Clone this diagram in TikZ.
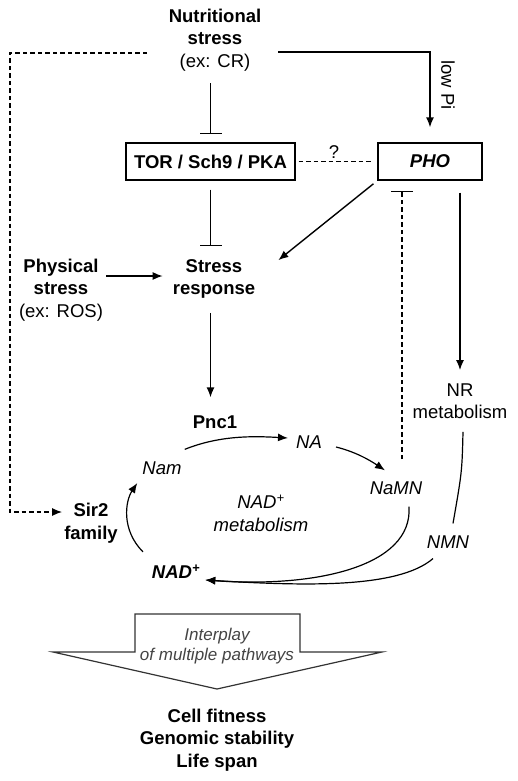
\documentclass[tikz,border=0pt]{standalone}
\usepackage{fontspec}
\setmainfont{Liberation Sans}
\usetikzlibrary{arrows.meta,calc}
\definecolor{boxgray}{HTML}{333333}
\definecolor{txtgray}{HTML}{444444}
\begin{document}
\begin{tikzpicture}[x=1pt,y=-1pt,
  every node/.style={inner sep=0pt, font=\fontsize{18.5}{22.5}\selectfont, align=center},
  bx/.style={draw, line width=1.3pt, minimum height=37pt, inner sep=0pt},
  arr/.style={line width=1.4pt, -{Latex[length=10pt,width=8pt]}},
  thinarr/.style={line width=1.2pt, -{Latex[length=10pt,width=8pt]}},
  inh/.style={line width=1.3pt, -{Bar[width=22pt]}},
  dsh/.style={line width=1.2pt, dash pattern=on 4.5pt off 3pt},
  bigarrow/.style={draw=boxgray, line width=1.2pt, fill=white}
]
\useasboundingbox (0,0) rectangle (517,781);

% nodes
\node (nut) at (215,40) {\textbf{Nutritional}\\\textbf{stress}\\(ex: CR)};
\node[bx, minimum width=169pt] (tor) at (210.5,161.5) {\textbf{TOR / Sch9 / PKA}};
\node[bx, minimum width=104pt] (pho) at (430,161.5) {\textbf{\textit{PHO}}};
\node (q) at (334,152) {?};
\node[rotate=-90] (lowpi) at (448,85) {low Pi};
\node (str) at (214,279) {\textbf{Stress}\\\textbf{response}};
\node (phy) at (61,290) {\textbf{Physical}\\\textbf{stress}\\(ex: ROS)};
\node (nr) at (460,401) {NR\\metabolism};
\node (pnc) at (215,422) {\textbf{Pnc1}};
\node (na) at (309,442) {\textit{NA}};
\node (nam) at (162,468) {\textit{Nam}};
\node (namn) at (396,488) {\textit{NaMN}};
\node (meta) at (261,513) {\textit{NAD\textsuperscript{+}}\\\textit{metabolism}};
\node (sir) at (91,523) {\textbf{Sir2}\\\textbf{family}};
\node (nmn) at (448,542) {\textit{NMN}};
\node (nad) at (176,572) {\textbf{\textit{NAD\textsuperscript{+}}}};

% big arrow
\draw[bigarrow] (135,652) -- (135,614) -- (300,614) -- (300,652) -- (382,652) -- (217,689) -- (53,652) -- cycle;
\node[text=txtgray, font=\fontsize{17}{20}\selectfont\itshape] (inter) at (217,646) {Interplay\\of multiple pathways};
\node (fit) at (217,740) {\textbf{Cell fitness}\\\textbf{Genomic stability}\\\textbf{Life span}};

% named coordinates
\coordinate (n1) at (278,52);
\coordinate (n2) at (147,53);
\coordinate (c1) at (10,512);
\coordinate (p1) at (106,276);
\coordinate (d1) at (402,459);

% connectors
\draw[arr, shorten >=15pt] (n1) -| (pho.north);
\draw[dsh, -{Latex[length=10pt,width=8pt]}, shorten >=2pt] (n2) -| (c1) -- (c1 -| sir.west);
\draw[inh, shorten <=12pt, shorten >=8pt] (tor.north |- nut.south) -- (tor.north);
\draw[inh, shorten <=9pt, shorten >=13pt] (tor.south) -- (tor.south |- str.north);
\draw[dsh, shorten <=3pt, shorten >=5pt] (tor.east) -- (pho.west);
\draw[arr, shorten <=5pt] (pho.south west) -- ($(str.north east)+(23,1)$);
\draw[arr, shorten <=12pt, shorten >=13pt] (pho.south -| nr.north) -- (nr.north);
\draw[dsh, -{Bar[width=22pt]}, shorten >=10pt] (d1) -- (d1 |- pho.south);
\draw[arr, shorten >=10pt] (p1) -- (p1 -| str.west);
\draw[arr, shorten <=14pt, shorten >=18pt] (str.south -| tor.south) -- (pnc.north -| tor.south);

% NAD cycle
\draw[thinarr] ([shift={(3,-12)}]nam.north east) .. controls +(35,-14) and +(-35,-2) .. ([shift={(-8,-4)}]na.west);
\draw[thinarr] ([shift={(14,5)}]na.east) .. controls +(20,5) and +(-15,-10) .. ([shift={(-11,-11)}]namn.north);
\draw[thinarr] ([shift={(-33,-13)}]nad.north) .. controls +(-22,-22) and +(-12,18) .. ([shift={(-5,15)}]nam.west);
\draw[thinarr] ([shift={(13,12)}]namn.south) .. controls +(4,60) and +(110,8) .. ([shift={(5,8)}]nad.east);
\draw[thinarr] ([shift={(-15,10)}]nmn.south) .. controls +(-35,30) and +(100,6) .. ([shift={(5,8)}]nad.east);
\draw[line width=1.2pt] ([shift={(3,13)}]nr.south) .. controls +(-1,40) .. ([shift={(5,-12)}]nmn.north);
\end{tikzpicture}
\end{document}
